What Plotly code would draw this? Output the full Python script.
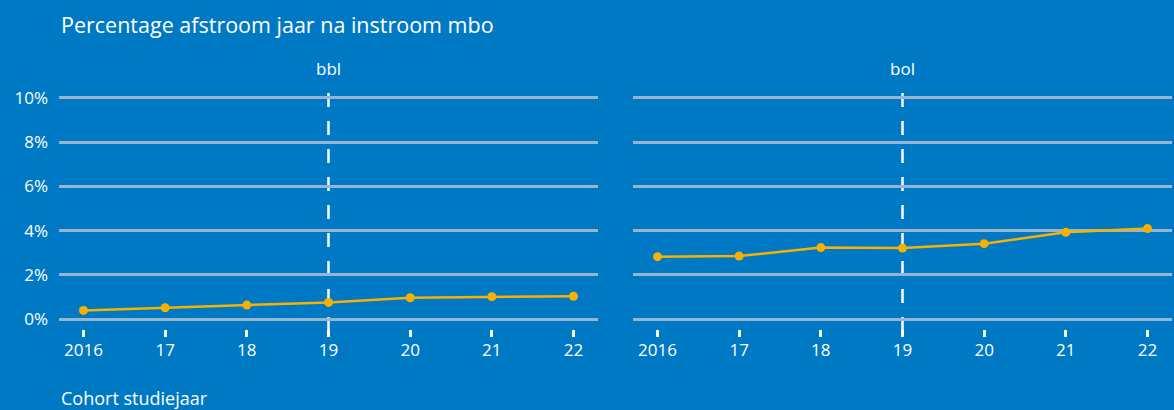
import plotly.graph_objects as go

# Cohort years and their axis labels
years = [2016, 2017, 2018, 2019, 2020, 2021, 2022]
year_labels = ["2016", "17", "18", "19", "20", "21", "22"]

# Percentage outflow one year after entering mbo, per learning pathway
bbl_values = [0.39, 0.51, 0.63, 0.75, 0.96, 1.01, 1.03]
bol_values = [2.82, 2.85, 3.23, 3.21, 3.41, 3.92, 4.09]

y_ticks = [0, 2, 4, 6, 8, 10]
y_tick_labels = ["0%", "2%", "4%", "6%", "8%", "10%"]

panel_titles = ["bbl", "bol"]
marker_year = 2019

BG = "#0079c5"
GRID = "#97b5cf"
ORANGE = "#f9b000"
WHITE = "#ffffff"
FONT = "Open Sans"

W, H = 1174, 410

fig = go.Figure()

fig.add_trace(go.Scatter(
    x=years, y=bbl_values, mode="lines+markers",
    line=dict(color=ORANGE, width=2.5),
    marker=dict(color=ORANGE, size=9),
    xaxis="x", yaxis="y", showlegend=False, hoverinfo="skip",
))
fig.add_trace(go.Scatter(
    x=years, y=bol_values, mode="lines+markers",
    line=dict(color=ORANGE, width=2.5),
    marker=dict(color=ORANGE, size=9),
    xaxis="x2", yaxis="y2", showlegend=False, hoverinfo="skip",
))

x_range = [2015.7, 2022.3]
y_range = [-0.814, 10.226]
y_dom = [1 - 337 / H, 1 - 93 / H]

xaxis_common = dict(
    range=x_range, tickvals=years, ticktext=year_labels,
    showgrid=False, zeroline=False, showline=False, automargin=False,
    ticks="inside", ticklen=7, tickwidth=2.5, tickcolor=WHITE,
    ticklabelstandoff=1,
    tickfont=dict(family=FONT, size=17, color=WHITE),
    fixedrange=True,
)
yaxis_common = dict(
    range=y_range, domain=y_dom, tickvals=y_ticks, ticktext=y_tick_labels,
    showgrid=True, gridcolor=GRID, gridwidth=2.5, automargin=False,
    zeroline=False, showline=False, ticks="",
    tickfont=dict(family=FONT, size=17, color=WHITE),
    fixedrange=True,
)

fig.update_layout(
    width=W, height=H,
    margin=dict(l=0, r=0, t=0, b=0, pad=0, autoexpand=False),
    paper_bgcolor=BG, plot_bgcolor=BG,
    xaxis=dict(domain=[59 / W, 598 / W], anchor="y", **xaxis_common),
    xaxis2=dict(domain=[633 / W, 1172 / W], anchor="y2", **xaxis_common),
    yaxis=dict(anchor="x", showticklabels=True, ticklabelstandoff=10, **yaxis_common),
    yaxis2=dict(anchor="x2", showticklabels=False, **yaxis_common),
)

# Dashed reference line at the 2019 cohort in both panels
for xr, yr in [("x", "y domain"), ("x2", "y2 domain")]:
    fig.add_shape(
        type="line", xref=xr, yref=yr,
        x0=marker_year, x1=marker_year, y0=1, y1=0,
        line=dict(color=WHITE, width=2.5, dash="14px,14px"),
        layer="below",
    )

# Panel titles
for xr, txt in [("x domain", panel_titles[0]), ("x2 domain", panel_titles[1])]:
    fig.add_annotation(
        text=txt, xref=xr, x=0.5, yref="paper", y=1 - 68 / H,
        xanchor="center", yanchor="middle", showarrow=False,
        font=dict(family=FONT, size=17, color=WHITE),
    )

fig.add_annotation(
    text="Percentage afstroom jaar na instroom mbo",
    xref="paper", x=59 / W, yref="paper", y=1 - 24 / H,
    xanchor="left", yanchor="middle", showarrow=False,
    font=dict(family=FONT, size=21.5, color=WHITE),
)
fig.add_annotation(
    text="Cohort studiejaar",
    xref="paper", x=59 / W, yref="paper", y=1 - 398 / H,
    xanchor="left", yanchor="middle", showarrow=False,
    font=dict(family=FONT, size=18, color=WHITE),
)

fig.write_html("out.html")
